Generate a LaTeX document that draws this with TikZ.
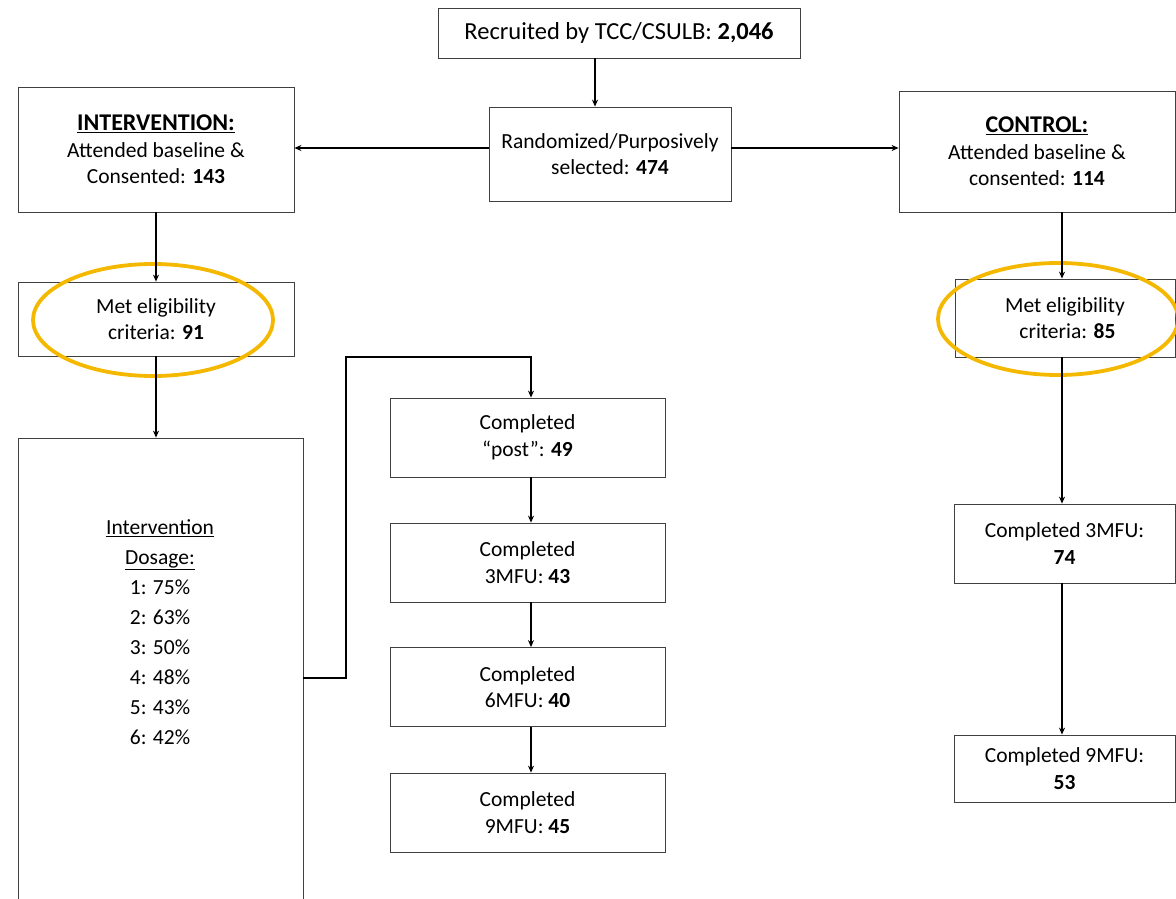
\documentclass[tikz,border=0pt]{standalone}
\usepackage{fontspec}
\setmainfont{Carlito}
\usepackage{xcolor}
\usetikzlibrary{arrows.meta}
\definecolor{ringgold}{HTML}{F5B800}

\begin{document}
\begin{tikzpicture}[x=1pt,y=-1pt,>={Stealth[length=7pt,width=6pt]},
  box/.style={draw=black!75,line width=0.8pt,align=center,inner sep=0pt,font=\fontsize{21.5}{26.5}\selectfont},
  ring/.style={draw=ringgold,line width=3.8pt},
  link/.style={->,line width=1.1pt}]
  \useasboundingbox (0,0) rectangle (1176,899);
  % boxes
  \node[box,minimum width=362pt,minimum height=50pt,font=\fontsize{24.5}{28}\selectfont] (recruit) at (619,33) {Recruited by TCC/CSULB: \textbf{2,046}};
  \node[box,minimum width=242pt,minimum height=94pt] (rand) at (610,154) {Randomized/Purposively\\selected: \textbf{474}};
  \node[box,minimum width=276pt,minimum height=125pt] (int) at (156,149.5) {{\fontsize{24}{27}\selectfont\textbf{\underline{INTERVENTION:}}}\\Attended baseline \&\\Consented: \textbf{143}};
  \node[box,minimum width=276pt,minimum height=121pt] (ctrl) at (1037,151.5) {{\fontsize{24}{28}\selectfont\textbf{\underline{CONTROL:}}}\\Attended baseline \&\\consented: \textbf{114}};
  \node[box,minimum width=276pt,minimum height=74pt] (met1) at (156,319) {Met eligibility\\criteria: \textbf{91}};
  \node[box,minimum width=220pt,minimum height=78pt] (met2) at (1065,318) {Met eligibility\\\ criteria: \textbf{85}};
  \node[box,minimum width=285pt,minimum height=480pt] (dose) at (160.5,678) {};
  \node[align=center,inner sep=0pt,font=\fontsize{21.5}{30}\selectfont] (dosetxt) at (160,632) {\underline{Intervention}\\\underline{Dosage:}\\1: 75\%\\2: 63\%\\3: 50\%\\4: 48\%\\5: 43\%\\6: 42\%};
  \node[box,minimum width=275pt,minimum height=79pt] (post) at (527.5,437.5) {Completed\\“post”: \textbf{49}};
  \node[box,minimum width=275pt,minimum height=79pt] (m3) at (527.5,562.5) {Completed\\3MFU: \textbf{43}};
  \node[box,minimum width=275pt,minimum height=79pt] (m6) at (527.5,687) {Completed\\6MFU: \textbf{40}};
  \node[box,minimum width=275pt,minimum height=79pt] (m9) at (527.5,812.5) {Completed\\9MFU: \textbf{45}};
  \node[box,minimum width=221pt,minimum height=79pt] (c3) at (1064.5,543.5) {Completed 3MFU:\\\textbf{74}};
  \node[box,minimum width=221pt,minimum height=67pt] (c9) at (1064.5,768.5) {Completed 9MFU:\\\textbf{53}};
  % highlight rings
  \draw[ring] (153,320) ellipse [x radius=120, y radius=56];
  \draw[ring] (1058,319) ellipse [x radius=120, y radius=56];
  % connectors
  \coordinate (recb) at ([xshift=-24pt]recruit.south);
  \coordinate (randl) at ([yshift=6pt]rand.west);
  \coordinate (randr) at ([yshift=6pt]rand.east);
  \coordinate (ctrlb) at ([xshift=25pt]ctrl.south);
  \coordinate (metb) at ([xshift=-3pt]met2.south);
  \coordinate (midb) at ([xshift=3.5pt]post.south);
  \coordinate (bend) at (346,357);
  \draw[link] (recb) -- (recb |- rand.north);
  \draw[link] (randl) -- (randl -| int.east);
  \draw[link] (randr) -- (randr -| ctrl.west);
  \draw[link] (int.south) -- (met1.north);
  \draw[link] (ctrlb) -- (ctrlb |- met2.north);
  \draw[link] (met1.south) -- (met1.south |- dose.north);
  \draw[link] (dose.east) -| (bend) -| (midb |- post.north);
  \draw[link] (midb) -- (midb |- m3.north);
  \draw[link] (m3.south -| midb) -- (midb |- m6.north);
  \draw[link] (m6.south -| midb) -- (midb |- m9.north);
  \draw[link] (metb) -- (metb |- c3.north);
  \draw[link] (c3.south -| metb) -- (metb |- c9.north);
\end{tikzpicture}
\end{document}
